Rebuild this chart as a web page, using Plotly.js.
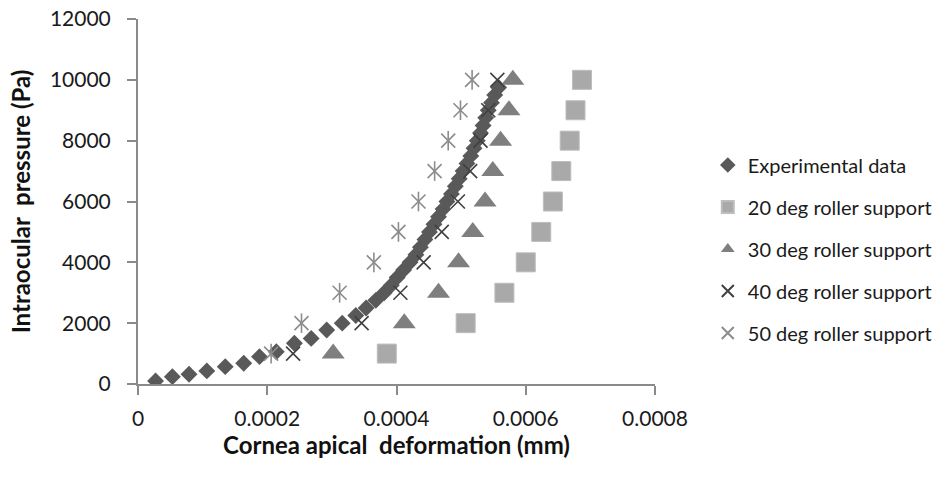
<!DOCTYPE html>
<html>
<head>
<meta charset="utf-8">
<script src="https://cdn.plot.ly/plotly-3.0.1.min.js"></script>
<style>html,body{margin:0;padding:0;background:#fff;}#chart{width:935px;height:477px;}</style>
</head>
<body>
<div id="chart"></div>
<script>
// Experimental data
var expX = [0.0000272,0.0000532,0.000079,0.0001065,0.000135,0.0001636,0.000188,0.000214,0.000242,0.000268,0.000292,
  0.000316,0.000337,0.000353,0.000368,0.000381,0.000392,0.000401,0.000411,0.000421,0.000430,0.000437,0.000444,
  0.000451,0.000458,0.000465,0.000472,0.000478,0.000485,0.000491,0.000497,0.000503,0.000509,0.000515,0.000520,
  0.000525,0.000530,0.000534,0.000538,0.000542,0.000547,0.000552,0.000558];
var expY = [100,240,320,430,570,680,900,1060,1340,1500,1775,
  2000,2250,2500,2750,3000,3250,3500,3750,4000,4250,4500,4750,
  5000,5250,5500,5750,6000,6250,6500,6750,7000,7250,7500,7750,
  8000,8250,8500,8750,9000,9250,9500,9750];
// Simulated pressures
var simY = [1000,2000,3000,4000,5000,6000,7000,8000,9000,10000];
var deg20X = [0.000385,0.000507,0.000567,0.000600,0.000624,0.000642,0.000655,0.000668,0.000677,0.000687];
var deg30X = [0.000302,0.000412,0.000465,0.000496,0.000518,0.000537,0.000549,0.000561,0.000574,0.000580];
var deg40X = [0.000240,0.000346,0.000406,0.000442,0.000470,0.000495,0.000514,0.000530,0.000542,0.000556];
var deg50X = [0.000206,0.000253,0.000312,0.000365,0.000403,0.000434,0.000459,0.000480,0.000499,0.000517];
var seriesNames = ["Experimental data","20 deg roller support","30 deg roller support","40 deg roller support","50 deg roller support"];
var xTickVals = [0,0.0002,0.0004,0.0006,0.0008];
var xTickText = ["0","0.0002","0.0004","0.0006","0.0008"];
var yTickVals = [0,2000,4000,6000,8000,10000,12000];
var yTickText = ["0","2000","4000","6000","8000","10000","12000"];

var FONT = "Lato, 'Open Sans', sans-serif";
var traces = [
  {x: expX, y: expY, name: seriesNames[0], legendgroup: "g0", type: "scatter", mode: "markers",
   marker: {symbol: "diamond", size: 13, color: "#595959"}},
  {x: deg20X, y: simY, name: seriesNames[1], legendgroup: "g1", type: "scatter", mode: "markers",
   marker: {symbol: "square", size: 19, color: "#a9a9a9", line: {color: "#bdbdbd", width: 1}}},
  {x: deg30X, y: simY, name: seriesNames[2], legendgroup: "g2", type: "scatter", mode: "markers",
   marker: {symbol: "triangle-up", size: 20, color: "#7f7f7f"}},
  {x: deg40X, y: simY, name: seriesNames[3], legendgroup: "g3", type: "scatter", mode: "markers",
   marker: {symbol: "x-thin-open", size: 14, color: "#404040", line: {color: "#404040", width: 1.6}}},
  {x: deg50X, y: simY, name: seriesNames[4], legendgroup: "g4", type: "scatter", mode: "markers",
   marker: {symbol: "x-thin-open", size: 14, color: "#8c8c8c", line: {color: "#8c8c8c", width: 1.6}}},
  {x: deg50X, y: simY, name: seriesNames[4], legendgroup: "g4", showlegend: false, type: "scatter", mode: "markers",
   marker: {symbol: "line-ns-open", size: 14, color: "#8c8c8c", line: {color: "#8c8c8c", width: 1.6}}}
];

var layout = {
  width: 935, height: 477,
  margin: {l: 138, r: 280, t: 19, b: 93},
  paper_bgcolor: "#ffffff", plot_bgcolor: "#ffffff",
  font: {family: FONT, color: "#1a1a1a", size: 20},
  showlegend: true,
  legend: {xref: "container", yref: "container", x: 0.757, y: 0.695, xanchor: "left", yanchor: "top",
           font: {family: FONT, size: 20, color: "#1a1a1a"},
           tracegroupgap: 13, itemsizing: "constant", bgcolor: "rgba(0,0,0,0)"},
  xaxis: {range: [0, 0.0008], tickvals: xTickVals, ticktext: xTickText, ticks: "outside", ticklen: 9, tickwidth: 2,
          tickcolor: "#8a8a8a", showline: true, linecolor: "#8a8a8a", linewidth: 2, showgrid: false, zeroline: false,
          ticklabelstandoff: 6,
          tickfont: {family: FONT, size: 21, color: "#1a1a1a"},
          title: {text: "Cornea apical\u00a0 deformation (mm)", standoff: 8,
                  font: {family: FONT, size: 24, color: "#111111", weight: "bold"}}},
  yaxis: {range: [0, 12000], tickvals: yTickVals, ticktext: yTickText, ticks: "outside", ticklen: 9, tickwidth: 2,
          tickcolor: "#8a8a8a", showline: true, linecolor: "#8a8a8a", linewidth: 2, showgrid: false, zeroline: false,
          ticklabelstandoff: 12,
          tickfont: {family: FONT, size: 21, color: "#1a1a1a"},
          title: {text: "Intraocular\u00a0 pressure (Pa)", standoff: 12,
                  font: {family: FONT, size: 24, color: "#111111", weight: "bold"}}}
};
Plotly.newPlot("chart", traces, layout, {displayModeBar: false, staticPlot: true});
</script>
</body>
</html>
